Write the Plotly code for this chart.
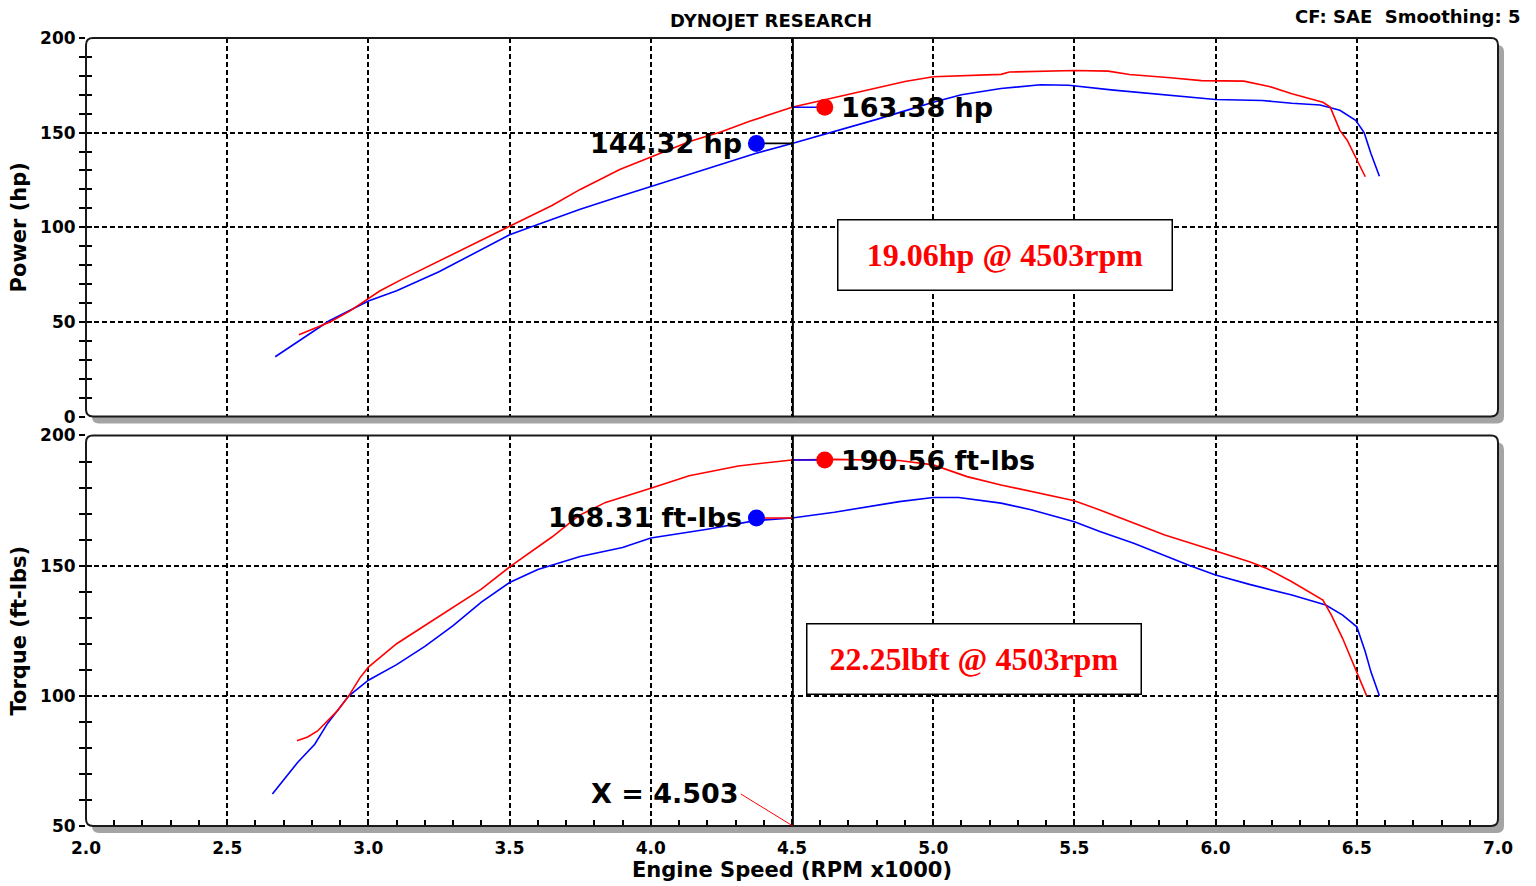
import plotly.graph_objects as go

# ---------------- data ----------------
title_text = "DYNOJET RESEARCH"
cf_text = "CF: SAE\u00a0\u00a0Smoothing: 5"
x_title = "Engine Speed (RPM x1000)"
hp_title = "Power (hp)"
tq_title = "Torque (ft-lbs)"

cursor_rpm = 4.503
red_hp_at_cursor = 163.38
blue_hp_at_cursor = 144.32
red_tq_at_cursor = 190.56
blue_tq_at_cursor = 168.31
hp_gain_text = "19.06hp @ 4503rpm"
tq_gain_text = "22.25lbft @ 4503rpm"

x_tick_vals = [2.0, 2.5, 3.0, 3.5, 4.0, 4.5, 5.0, 5.5, 6.0, 6.5, 7.0]
x_tick_text = ["2.0", "2.5", "3.0", "3.5", "4.0", "4.5", "5.0", "5.5", "6.0", "6.5", "7.0"]
hp_tick_vals = [0, 50, 100, 150, 200]
tq_tick_vals = [50, 100, 150, 200]

blue_hp_rpm = [2.67, 2.75, 2.86, 3.0, 3.1, 3.25, 3.4, 3.5, 3.6, 3.75, 3.9, 4.0, 4.2, 4.37, 4.5,
               4.65, 4.8, 4.9, 5.0, 5.1, 5.24, 5.38, 5.48, 5.63, 5.78, 5.88, 6.0, 6.165, 6.27,
               6.37, 6.44, 6.496, 6.526, 6.55, 6.58]
blue_hp = [31.6, 39.5, 50.5, 61.0, 66.5, 76.5, 88.0, 96.0, 101.5, 109.5, 116.8, 121.5, 131.0, 139.0, 144.3,
           150.5, 157.0, 161.5, 166.0, 170.0, 173.3, 175.3, 175.0, 172.6, 170.5, 168.8, 167.5, 167.0, 165.5,
           164.6, 161.8, 156.5, 150.0, 139.0, 127.0]

red_hp_rpm = [2.754, 2.79, 2.864, 2.935, 2.995, 3.04, 3.12, 3.25, 3.4, 3.5, 3.65, 3.75, 3.89, 4.0,
              4.14, 4.25, 4.35, 4.5, 4.65, 4.8, 4.9, 5.0, 5.24, 5.27, 5.39, 5.5, 5.62, 5.695, 5.84,
              5.95, 6.1, 6.19, 6.27, 6.38, 6.406, 6.44, 6.466, 6.496, 6.53]
red_hp = [43.2, 45.3, 50.0, 55.8, 62.0, 66.3, 72.6, 82.0, 93.0, 100.5, 111.5, 120.0, 130.5, 137.0,
          145.5, 150.5, 156.0, 163.4, 168.5, 173.5, 177.0, 179.5, 180.8, 182.0, 182.5, 182.8, 182.5, 180.7, 179.0,
          177.5, 177.2, 174.4, 170.5, 166.0, 163.5, 151.2, 146.0, 137.2, 126.7]

blue_tq_rpm = [2.66, 2.70, 2.75, 2.81, 2.856, 2.93, 3.0, 3.1, 3.2, 3.3, 3.4, 3.5, 3.6, 3.75, 3.9, 4.0,
               4.2, 4.37, 4.5, 4.65, 4.79, 4.88, 5.0, 5.09, 5.24, 5.35, 5.5, 5.59, 5.71, 5.82, 5.91,
               6.0, 6.12, 6.27, 6.39, 6.45, 6.5, 6.53, 6.55, 6.58]
blue_tq = [62.3, 67.8, 74.5, 81.4, 89.5, 99.9, 106.0, 112.0, 119.0, 127.0, 136.0, 143.5, 148.5, 153.5, 157.0, 160.6,
           164.0, 167.3, 168.3, 170.5, 173.0, 174.6, 176.2, 176.2, 174.0, 171.4, 166.9, 163.1, 158.6, 153.8, 150.0,
           146.4, 142.8, 138.7, 134.9, 131.0, 126.5, 116.9, 109.2, 100.0]

red_tq_rpm = [2.747, 2.785, 2.82, 2.856, 2.89, 2.93, 2.97, 3.0, 3.1, 3.2, 3.3, 3.4, 3.5, 3.65, 3.745,
              3.84, 4.0, 4.136, 4.31, 4.5, 4.65, 4.8, 4.88, 5.0, 5.12, 5.24, 5.35, 5.5, 5.59, 5.71,
              5.82, 6.0, 6.12, 6.18, 6.27, 6.38, 6.41, 6.45, 6.48, 6.51, 6.535]
red_tq = [82.7, 84.2, 86.5, 90.3, 94.2, 99.9, 106.9, 111.0, 120.0, 127.0, 134.0, 141.0, 149.5, 161.0, 169.2,
          174.3, 179.7, 184.5, 188.3, 190.6, 190.8, 190.5, 190.4, 188.7, 184.2, 181.0, 178.5, 174.9, 171.4, 166.3,
          161.8, 155.6, 151.5, 149.0, 143.8, 136.8, 131.0, 122.0, 114.4, 106.7, 100.0]

# ---------------- styling / layout ----------------
W, H = 1536, 886
ML, MR, MT, MB = 86, 38, 38, 57
PW, PH = W - ML - MR, H - MT - MB
TOP_DOM = [0.5196, 1.0]
BOT_DOM = [0.0, 0.4956]
RED, BLUE = "#ff0000", "#0000ff"
SANS = "DejaVu Sans"
SERIF = "Liberation Serif"
red_marker_off = 0.113
blue_marker_off = -0.129

fig = go.Figure()

# curves
fig.add_trace(go.Scatter(x=blue_hp_rpm, y=blue_hp, mode="lines", line=dict(color=BLUE, width=1.6),
                         xaxis="x", yaxis="y", showlegend=False, hoverinfo="skip"))
fig.add_trace(go.Scatter(x=red_hp_rpm, y=red_hp, mode="lines", line=dict(color=RED, width=1.6),
                         xaxis="x", yaxis="y", showlegend=False, hoverinfo="skip"))
fig.add_trace(go.Scatter(x=blue_tq_rpm, y=blue_tq, mode="lines", line=dict(color=BLUE, width=1.6),
                         xaxis="x2", yaxis="y2", showlegend=False, hoverinfo="skip"))
fig.add_trace(go.Scatter(x=red_tq_rpm, y=red_tq, mode="lines", line=dict(color=RED, width=1.6),
                         xaxis="x2", yaxis="y2", showlegend=False, hoverinfo="skip"))

# cursor connectors + markers
def cursor_marker(val, off, mcolor, lcolor, xa, ya):
    fig.add_trace(go.Scatter(x=[cursor_rpm, cursor_rpm + off], y=[val, val], mode="lines",
                             line=dict(color=lcolor, width=1.6), xaxis=xa, yaxis=ya,
                             showlegend=False, hoverinfo="skip"))
    fig.add_trace(go.Scatter(x=[cursor_rpm + off], y=[val], mode="markers",
                             marker=dict(color=mcolor, size=17, line=dict(width=0)),
                             xaxis=xa, yaxis=ya, showlegend=False, hoverinfo="skip"))

cursor_marker(red_hp_at_cursor, red_marker_off, RED, BLUE, "x", "y")
cursor_marker(blue_hp_at_cursor, blue_marker_off, BLUE, "black", "x", "y")
cursor_marker(red_tq_at_cursor, red_marker_off, RED, BLUE, "x2", "y2")
cursor_marker(blue_tq_at_cursor, blue_marker_off, BLUE, RED, "x2", "y2")

# dummy traces for overlay tick axes
fig.add_trace(go.Scatter(x=[], y=[], xaxis="x", yaxis="y3", showlegend=False))
fig.add_trace(go.Scatter(x=[], y=[], xaxis="x2", yaxis="y4", showlegend=False))

tickfont = dict(family=SANS, size=17, color="#000000", weight="bold")
titlefont = dict(family=SANS, size=21, color="black", weight="bold")
grid = dict(showgrid=True, gridcolor="#000000", gridwidth=1.5, griddash="5px,3px", zeroline=False)

fig.update_layout(
    width=W, height=H,
    margin=dict(l=ML, r=MR, t=MT, b=MB),
    paper_bgcolor="white", plot_bgcolor="rgba(0,0,0,0)",
    xaxis=dict(domain=[0, 1], range=[2, 7], anchor="y", tickvals=x_tick_vals, showticklabels=False,
               ticks="", showline=False, **grid),
    xaxis2=dict(domain=[0, 1], range=[2, 7], anchor="y2", tickvals=x_tick_vals, ticktext=x_tick_text,
                ticks="inside", ticklen=6, tickwidth=1.5, tickcolor="black",
                minor=dict(dtick=0.1, tick0=2, ticks="inside", ticklen=6, tickwidth=1.5, tickcolor="black",
                           showgrid=False),
                tickfont=tickfont, ticklabelstandoff=10, showline=False,
                title=dict(text=x_title, font=titlefont, standoff=1),
                **grid),
    yaxis=dict(domain=TOP_DOM, range=[0, 200], anchor="x", tickvals=hp_tick_vals,
               ticks="outside", ticklen=6, tickwidth=1.5, tickcolor="black",
               minor=dict(dtick=10, tick0=0, ticks="outside", ticklen=6, tickwidth=1.5, tickcolor="black",
                          showgrid=False),
               tickfont=tickfont, showline=False,
               title=dict(text=hp_title, font=titlefont, standoff=7),
               **grid),
    yaxis2=dict(domain=BOT_DOM, range=[50, 200], anchor="x2", tickvals=tq_tick_vals,
                ticks="outside", ticklen=6, tickwidth=1.5, tickcolor="black",
                minor=dict(dtick=10, tick0=50, ticks="outside", ticklen=6, tickwidth=1.5, tickcolor="black",
                           showgrid=False),
                tickfont=tickfont, showline=False,
                title=dict(text=tq_title, font=titlefont, standoff=7),
                **grid),
    yaxis3=dict(overlaying="y", anchor="x", side="left", range=[0, 200], tickvals=hp_tick_vals,
                ticks="inside", ticklen=6, tickwidth=1.5, tickcolor="black",
                minor=dict(dtick=10, tick0=0, ticks="inside", ticklen=6, tickwidth=1.5, tickcolor="black"),
                showticklabels=False, showgrid=False, zeroline=False, showline=False),
    yaxis4=dict(overlaying="y2", anchor="x2", side="left", range=[50, 200], tickvals=tq_tick_vals,
                ticks="inside", ticklen=6, tickwidth=1.5, tickcolor="black",
                minor=dict(dtick=10, tick0=50, ticks="inside", ticklen=6, tickwidth=1.5, tickcolor="black"),
                showticklabels=False, showgrid=False, zeroline=False, showline=False),
)

# panel frames with rounded corners and drop shadow
def rpath(x0, y0, x1, y1, r=7):
    rx, ry = r / PW, r / PH
    return (f"M {x0+rx},{y1} L {x1-rx},{y1} Q {x1},{y1} {x1},{y1-ry} L {x1},{y0+ry} "
            f"Q {x1},{y0} {x1-rx},{y0} L {x0+rx},{y0} Q {x0},{y0} {x0},{y0+ry} "
            f"L {x0},{y1-ry} Q {x0},{y1} {x0+rx},{y1} Z")

dx, dy = 6 / PW, 7 / PH
shapes = []
for dom in (TOP_DOM, BOT_DOM):
    y0, y1 = dom
    shapes.append(dict(type="path", xref="paper", yref="paper", path=rpath(0 + dx, y0 - dy, 1 + dx, y1 - dy),
                       fillcolor="#a4a4a4", line=dict(width=0), layer="below"))
    shapes.append(dict(type="path", xref="paper", yref="paper", path=rpath(0, y0, 1, y1),
                       fillcolor="white", line=dict(width=0), layer="below"))
    shapes.append(dict(type="path", xref="paper", yref="paper", path=rpath(0, y0, 1, y1),
                       fillcolor="rgba(0,0,0,0)", line=dict(color="#1a1a1a", width=2), layer="above"))
# cursor line
for xa, ya in (("x", "y"), ("x2", "y2")):
    shapes.append(dict(type="line", xref=xa, yref=f"{ya} domain", x0=cursor_rpm, x1=cursor_rpm, y0=0, y1=1,
                       line=dict(color="black", width=2), layer="above"))
fig.update_layout(shapes=shapes)

lab_font = dict(family=SANS, size=27, color="black", weight="bold")
gain_font = dict(family=SERIF, size=32, color=RED, weight="bold")
head_font = dict(family=SANS, size=18, color="black", weight="bold")
ann = [
    dict(text=title_text, xref="paper", yref="paper", x=(771 - ML) / PW, y=(H - MB - 20) / PH,
         showarrow=False, xanchor="center", yanchor="middle", font=head_font),
    dict(text=cf_text, xref="paper", yref="paper", x=(1522 - ML) / PW, y=(H - MB - 16) / PH,
         showarrow=False, xanchor="right", yanchor="middle", font=head_font),
    dict(text=f"{red_hp_at_cursor:.2f} hp", xref="x", yref="y", x=cursor_rpm + red_marker_off,
         y=red_hp_at_cursor, xanchor="left", yanchor="middle", xshift=14, showarrow=False, font=lab_font),
    dict(text=f"{blue_hp_at_cursor:.2f} hp", xref="x", yref="y", x=cursor_rpm + blue_marker_off,
         y=blue_hp_at_cursor, xanchor="right", yanchor="middle", xshift=-12, showarrow=False, font=lab_font),
    dict(text=f"{red_tq_at_cursor:.2f} ft-lbs", xref="x2", yref="y2", x=cursor_rpm + red_marker_off,
         y=red_tq_at_cursor, xanchor="left", yanchor="middle", xshift=14, showarrow=False, font=lab_font),
    dict(text=f"{blue_tq_at_cursor:.2f} ft-lbs", xref="x2", yref="y2", x=cursor_rpm + blue_marker_off,
         y=blue_tq_at_cursor, xanchor="right", yanchor="middle", xshift=-12, showarrow=False, font=lab_font),
    dict(text=hp_gain_text, xref="x", yref="y", x=5.254, y=85.3, showarrow=False,
         xanchor="center", yanchor="middle", width=333, height=69, borderpad=0,
         bordercolor="black", borderwidth=1.5, bgcolor="white", font=gain_font),
    dict(text=tq_gain_text, xref="x2", yref="y2", x=5.146, y=114.1, showarrow=False,
         xanchor="center", yanchor="middle", width=333, height=69, borderpad=0,
         bordercolor="black", borderwidth=1.5, bgcolor="white", font=gain_font),
    dict(text=f"X = {cursor_rpm:.3f}", xref="x2", yref="y2", x=cursor_rpm, y=50,
         showarrow=True, arrowhead=0, arrowcolor=RED, arrowwidth=1, ax=-52, ay=-32,
         xanchor="right", yanchor="middle", font=lab_font),
]
fig.update_layout(annotations=ann)

fig.write_html("out.html", config={"displayModeBar": False},
               post_script="document.body.style.margin='0';document.body.style.overflow='hidden';")
